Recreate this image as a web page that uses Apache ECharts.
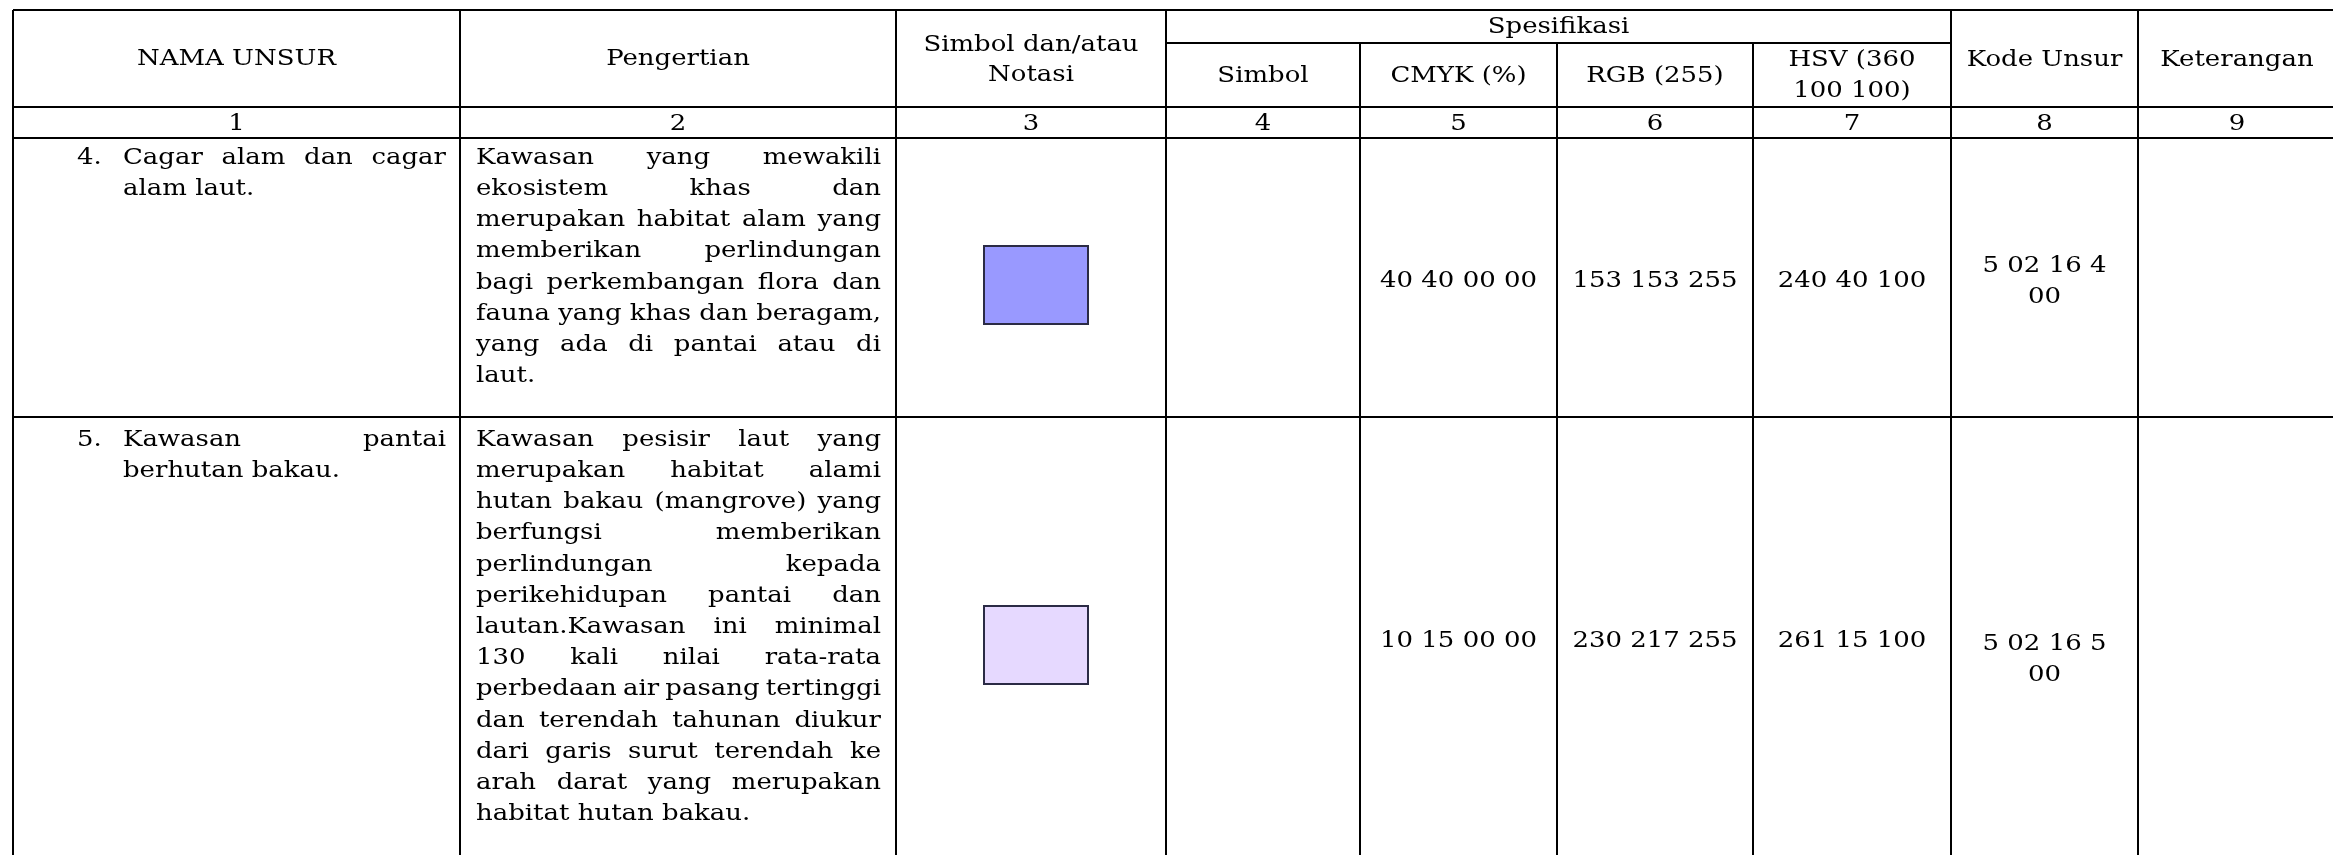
<!DOCTYPE html>
<html>
<head>
<meta charset="utf-8">
<script src="https://cdn.jsdelivr.net/npm/echarts@6/dist/echarts.min.js"></script>
<style>html,body{margin:0;padding:0;background:#fff}#c{width:2333px;height:855px}</style>
</head>
<body>
<div id="c"></div>
<script>
// ---------- DATA ----------
const headerMain = ['NAMA UNSUR', 'Pengertian', ['Simbol dan/atau', 'Notasi']];
const headerGroup = 'Spesifikasi';
const headerSpec = ['Simbol', 'CMYK (%)', 'RGB (255)', ['HSV (360', '100 100)']];
const headerTail = ['Kode Unsur', 'Keterangan'];
const colNumbers = ['1', '2', '3', '4', '5', '6', '7', '8', '9'];

const itemNumbers = ['4.', '5.'];
const namaUnsur = [
  ['Cagar alam dan cagar', 'alam laut.'],
  ['Kawasan pantai', 'berhutan bakau.']
];
const pengertian = [
  ['Kawasan yang mewakili', 'ekosistem khas dan', 'merupakan habitat alam yang',
   'memberikan perlindungan', 'bagi perkembangan flora dan', 'fauna yang khas dan beragam,',
   'yang ada di pantai atau di', 'laut.'],
  ['Kawasan pesisir laut yang', 'merupakan habitat alami', 'hutan bakau (mangrove) yang',
   'berfungsi memberikan', 'perlindungan kepada', 'perikehidupan pantai dan',
   'lautan.Kawasan ini minimal', '130 kali nilai rata-rata', 'perbedaan air pasang tertinggi',
   'dan terendah tahunan diukur', 'dari garis surut terendah ke', 'arah darat yang merupakan',
   'habitat hutan bakau.']
];
const cmyk = ['40 40 00 00', '10 15 00 00'];
const rgb = ['153 153 255', '230 217 255'];
const hsv = ['240 40 100', '261 15 100'];
const kodeUnsur = [['5 02 16 4', '00'], ['5 02 16 5', '00']];

// ---------- LAYOUT ----------
const FONT = '22px "DejaVu Serif"';
const SX = 1.18;
const LH = 31.2;
const vX = [13, 460, 896, 1166, 1360, 1557, 1753, 1951, 2138]; // vertical rules
const RIGHT = 2333;
const yTop = 10, ySpec = 43, yHead = 107, yNum = 138;
const rowSep = [417];
const colCenters = [236.5, 678, 1031, 1263, 1458.5, 1655, 1852, 2044.5, 2237];
const rowTextY = [158, 440];
const rowValY = [281, 641];
const rowKodeY = [266, 644];
const swatchY = [246, 606];

const ctx = document.createElement('canvas').getContext('2d');
ctx.font = FONT;
const measure = s => ctx.measureText(s).width * SX;

const els = [];
function txt(s, x, y, align) {
  els.push({type: 'text', x: x, y: y, scaleX: SX, silent: true,
    style: {text: s, font: FONT, fill: '#000', textAlign: align || 'left', textVerticalAlign: 'middle'}});
}
function line(x1, y1, x2, y2, w) {
  els.push({type: 'line', silent: true, shape: {x1, y1, x2, y2},
    style: {stroke: '#000', lineWidth: w || 2}});
}
function para(lines, left, right, y0) {
  lines.forEach((ln, i) => {
    const y = y0 + i * LH;
    const words = ln.split(' ');
    const last = i === lines.length - 1;
    if (last || words.length < 2) { txt(ln, left, y); return; }
    const ws = words.map(measure);
    const sum = ws.reduce((a, b) => a + b, 0);
    const gap = (right - left - sum) / (words.length - 1);
    let x = left;
    words.forEach((w, k) => { txt(w, x, y); x += ws[k] + gap; });
  });
}

// rules
line(vX[0], yTop, RIGHT, yTop);
line(vX[3], ySpec, vX[7], ySpec);
line(vX[0], yHead, RIGHT, yHead);
line(vX[0], yNum, RIGHT, yNum);
rowSep.forEach(y => line(vX[0], y, RIGHT, y));
vX.forEach((x, i) => {
  const y0 = (i >= 4 && i <= 6) ? ySpec : yTop;
  line(x, y0, x, 855);
});

// headers
txt(headerMain[0], colCenters[0], 59, 'center');
txt(headerMain[1], colCenters[1], 59, 'center');
txt(headerMain[2][0], colCenters[2], 45, 'center');
txt(headerMain[2][1], colCenters[2], 75, 'center');
txt(headerGroup, (vX[3] + vX[7]) / 2, 27, 'center');
headerSpec.forEach((h, i) => {
  if (Array.isArray(h)) { txt(h[0], colCenters[3 + i], 60, 'center'); txt(h[1], colCenters[3 + i], 91, 'center'); }
  else txt(h, colCenters[3 + i], 76, 'center');
});
headerTail.forEach((h, i) => txt(h, colCenters[7 + i], 60, 'center'));
colNumbers.forEach((n, i) => txt(n, colCenters[i], 124, 'center'));

// body rows
itemNumbers.forEach((num, r) => {
  txt(num, 77, rowTextY[r]);
  para(namaUnsur[r], 123, 446, rowTextY[r]);
  para(pengertian[r], 476, 881, rowTextY[r]);
  const c = rgb[r].split(' ').map(Number);
  els.push({type: 'rect', silent: true, shape: {x: 984, y: swatchY[r], width: 104, height: 78},
    style: {fill: 'rgb(' + c.join(',') + ')', stroke: '#2b2b45', lineWidth: 2}});
  txt(cmyk[r], colCenters[4], rowValY[r], 'center');
  txt(rgb[r], colCenters[5], rowValY[r], 'center');
  txt(hsv[r], colCenters[6], rowValY[r], 'center');
  kodeUnsur[r].forEach((k, j) => txt(k, colCenters[7], rowKodeY[r] + j * 31, 'center'));
});

const chart = echarts.init(document.getElementById('c'), null, {renderer: 'canvas'});
chart.setOption({backgroundColor: '#fff', animation: false, graphic: {elements: els}});
</script>
</body>
</html>
